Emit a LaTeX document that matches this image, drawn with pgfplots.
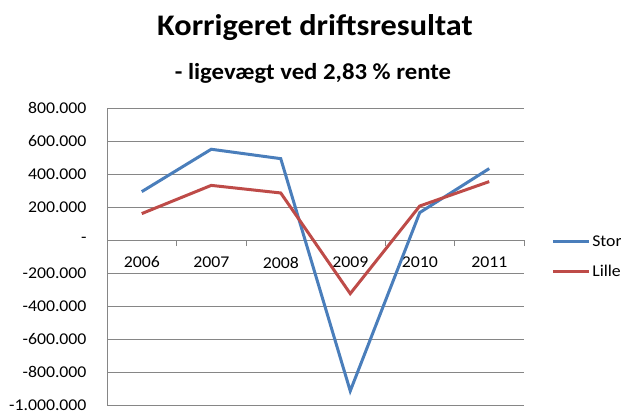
\documentclass[border=0pt]{standalone}
\usepackage{fontspec}
\setmainfont[FakeStretch=1.08]{Carlito}
\usepackage{pgfplots}
\pgfplotsset{compat=1.18}
\definecolor{stor}{RGB}{74,126,187}
\definecolor{lille}{RGB}{190,75,72}
\definecolor{gridc}{RGB}{134,134,134}
\begin{document}
\begin{tikzpicture}
\useasboundingbox (0,0) rectangle (621bp,411bp);
\node[font=\fontsize{30}{34}\selectfont\bfseries, anchor=base] at (315bp,375bp) {Korrigeret driftsresultat};
\node[font=\fontsize{23}{26}\selectfont\bfseries, anchor=base] at (313bp,331bp) {- ligevægt ved 2,83 \% rente};
\begin{axis}[
  at={(107bp,6bp)}, anchor=south west,
  scale only axis, width=417bp, height=297bp,
  xmin=-0.5, xmax=5.5, ymin=-1000000, ymax=800000,
  scaled y ticks=false,
  axis x line*=middle, axis y line*=left,
  x axis line style={gridc, line width=0.8bp},
  y axis line style={gridc, line width=0.8bp},
  xtick={0,...,5}, xticklabels={2006,2007,2008,2009,2010,2011},
  minor xtick={-0.5,0.5,...,5.5},
  major x tick style={draw=none},
  minor x tick style={gridc, line width=0.8bp},
  minor tick length=6bp, xtick align=outside,
  ytick={-1000000,-800000,...,800000},
  yticklabels={-1.000.000,-800.000,-600.000,-400.000,-200.000,-,200.000,400.000,600.000,800.000},
  ymajorgrids, major grid style={gridc, line width=0.8bp},
  major y tick style={draw=none},
  /pgf/number format/assume math mode=true,
  tick label style={font=\fontsize{16.5}{18}\selectfont},
  xticklabel style={yshift=-9bp},
  yticklabel style={xshift=-17bp},
  legend style={draw=none, fill=none, at={(1.065,0.5)}, anchor=west, font=\fontsize{16.5}{18}\selectfont, row sep=13bp, inner sep=0pt},
  legend cell align=left,
  legend image code/.code={\draw[#1] (0bp,0bp) -- (36bp,0bp);},
]
\addplot[stor, line width=3bp] coordinates {(0,293000) (1,550000) (2,493000) (3,-915000) (4,166000) (5,433000)};
\addlegendentry{Stor}
\addplot[lille, line width=3bp] coordinates {(0,160000) (1,331000) (2,285000) (3,-325000) (4,206000) (5,354000)};
\addlegendentry{Lille}
\end{axis}
\end{tikzpicture}
\end{document}
